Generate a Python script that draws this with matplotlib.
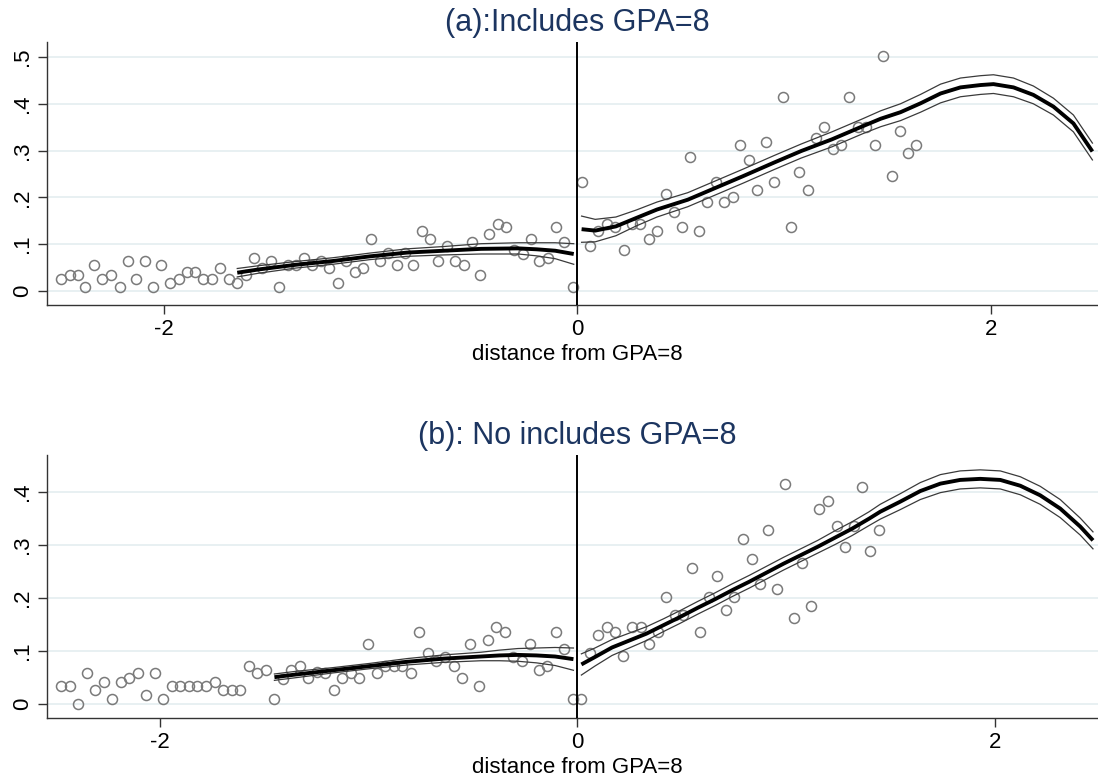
import matplotlib
matplotlib.use("Agg")
import matplotlib.pyplot as plt
from matplotlib.ticker import FuncFormatter

plt.rcParams['font.family'] = ['Liberation Sans', 'DejaVu Sans']

# ---- panel (a): sample includes GPA=8 ----
a_left_x = [-2.502, -2.459, -2.420, -2.382, -2.339, -2.300, -2.256, -2.217, -2.176, -2.135,
            -2.095, -2.056, -2.014, -1.973, -1.930, -1.891, -1.853, -1.812, -1.770, -1.729,
            -1.686, -1.647, -1.605, -1.568, -1.525, -1.485, -1.444, -1.403, -1.361, -1.324,
            -1.283, -1.241, -1.202, -1.161, -1.119, -1.078, -1.039, -0.999, -0.958, -0.917,
            -0.875, -0.836, -0.796, -0.755, -0.716, -0.673, -0.631, -0.592, -0.549, -0.511,
            -0.470, -0.429, -0.387, -0.346, -0.307, -0.265, -0.226, -0.185, -0.143, -0.104,
            -0.063, -0.020]
a_left_y = [0.025, 0.034, 0.034, 0.009, 0.055, 0.025, 0.034, 0.009, 0.064, 0.025,
            0.064, 0.009, 0.055, 0.016, 0.025, 0.041, 0.041, 0.025, 0.025, 0.050,
            0.025, 0.016, 0.034, 0.071, 0.050, 0.064, 0.009, 0.055, 0.055, 0.071,
            0.055, 0.064, 0.050, 0.016, 0.064, 0.041, 0.050, 0.112, 0.064, 0.081,
            0.055, 0.081, 0.055, 0.129, 0.112, 0.064, 0.096, 0.064, 0.055, 0.104,
            0.034, 0.121, 0.143, 0.136, 0.088, 0.079, 0.112, 0.064, 0.071, 0.136,
            0.104, 0.009]
a_right_x = [0.020, 0.060, 0.101, 0.143, 0.184, 0.224, 0.264, 0.304, 0.345, 0.387,
             0.427, 0.468, 0.508, 0.546, 0.588, 0.629, 0.669, 0.710, 0.752, 0.788,
             0.830, 0.871, 0.913, 0.953, 0.996, 1.036, 1.074, 1.114, 1.155, 1.195,
             1.237, 1.278, 1.316, 1.356, 1.398, 1.439, 1.481, 1.522, 1.563, 1.602,
             1.641]
a_right_y = [0.232, 0.096, 0.129, 0.144, 0.136, 0.088, 0.144, 0.144, 0.112, 0.129,
             0.208, 0.168, 0.136, 0.287, 0.129, 0.191, 0.232, 0.191, 0.201, 0.311,
             0.279, 0.216, 0.319, 0.232, 0.415, 0.136, 0.255, 0.216, 0.327, 0.350,
             0.303, 0.311, 0.415, 0.350, 0.350, 0.311, 0.502, 0.246, 0.342, 0.295,
             0.311]

# local polynomial fits with confidence band half-widths
fit_a_left_x = [-1.647, -1.543, -1.363, -1.184, -1.004, -0.825, -0.646, -0.466, -0.287,
                -0.197, -0.108, -0.018]
fit_a_left_y = [0.039, 0.046, 0.056, 0.064, 0.074, 0.082, 0.086, 0.090, 0.091,
                0.089, 0.086, 0.079]
fit_a_left_se = [0.009, 0.008, 0.007, 0.007, 0.007, 0.008, 0.009, 0.011, 0.012,
                 0.014, 0.017, 0.022]
fit_a_right_x = [0.020, 0.086, 0.186, 0.285, 0.385, 0.534, 0.667, 0.800, 0.950, 1.083,
                 1.232, 1.381, 1.468, 1.564, 1.661, 1.758, 1.854, 1.951, 2.014, 2.111,
                 2.207, 2.304, 2.401, 2.493]
fit_a_right_y = [0.132, 0.129, 0.138, 0.156, 0.174, 0.195, 0.220, 0.245, 0.274, 0.299,
                 0.324, 0.352, 0.368, 0.382, 0.401, 0.422, 0.435, 0.440, 0.442, 0.435,
                 0.419, 0.394, 0.358, 0.298]
fit_a_right_se = [0.028, 0.024, 0.020, 0.017, 0.016, 0.015, 0.015, 0.015, 0.015, 0.015,
                  0.016, 0.016, 0.017, 0.018, 0.019, 0.020, 0.020, 0.020, 0.020, 0.020,
                  0.019, 0.018, 0.018, 0.018]

# ---- panel (b): sample excludes GPA=8 ----
b_left_x = [-2.473, -2.431, -2.390, -2.349, -2.309, -2.268, -2.227, -2.186, -2.145, -2.105,
            -2.064, -2.021, -1.982, -1.941, -1.901, -1.860, -1.819, -1.777, -1.736, -1.695,
            -1.654, -1.613, -1.573, -1.532, -1.491, -1.450, -1.410, -1.369, -1.328, -1.287,
            -1.246, -1.206, -1.165, -1.124, -1.083, -1.043, -1.002, -0.961, -0.920, -0.879,
            -0.839, -0.798, -0.757, -0.715, -0.674, -0.633, -0.592, -0.551, -0.511, -0.470,
            -0.429, -0.388, -0.348, -0.307, -0.266, -0.225, -0.184, -0.144, -0.103, -0.062,
            -0.021]
b_left_y = [0.033, 0.033, 0.000, 0.057, 0.025, 0.041, 0.009, 0.041, 0.049, 0.057,
            0.016, 0.057, 0.009, 0.033, 0.033, 0.033, 0.033, 0.033, 0.041, 0.025,
            0.025, 0.025, 0.072, 0.057, 0.064, 0.009, 0.047, 0.064, 0.072, 0.049,
            0.060, 0.057, 0.025, 0.049, 0.057, 0.049, 0.113, 0.057, 0.072, 0.072,
            0.072, 0.057, 0.136, 0.096, 0.080, 0.088, 0.072, 0.049, 0.113, 0.033,
            0.120, 0.145, 0.136, 0.088, 0.080, 0.113, 0.064, 0.072, 0.136, 0.104,
            0.009]
b_right_x = [0.020, 0.059, 0.100, 0.141, 0.182, 0.221, 0.263, 0.304, 0.345, 0.386,
             0.427, 0.466, 0.507, 0.550, 0.589, 0.630, 0.671, 0.712, 0.753, 0.794,
             0.835, 0.874, 0.915, 0.956, 0.997, 1.037, 1.078, 1.119, 1.160, 1.201,
             1.242, 1.283, 1.324, 1.363, 1.404, 1.445]
b_right_y = [0.009, 0.096, 0.129, 0.145, 0.136, 0.089, 0.145, 0.145, 0.113, 0.136,
             0.201, 0.168, 0.168, 0.256, 0.136, 0.201, 0.240, 0.177, 0.201, 0.311,
             0.272, 0.225, 0.328, 0.216, 0.415, 0.161, 0.265, 0.184, 0.367, 0.383,
             0.336, 0.296, 0.336, 0.408, 0.288, 0.328]

fit_b_left_x = [-1.450, -1.348, -1.170, -0.993, -0.816, -0.638, -0.461, -0.372, -0.284,
                -0.195, -0.106, -0.018]
fit_b_left_y = [0.050, 0.055, 0.063, 0.071, 0.079, 0.085, 0.089, 0.091, 0.092,
                0.091, 0.089, 0.084]
fit_b_left_se = [0.006, 0.006, 0.005, 0.005, 0.006, 0.007, 0.008, 0.010, 0.012,
                 0.014, 0.017, 0.021]
fit_b_right_x = [0.020, 0.085, 0.167, 0.249, 0.331, 0.413, 0.495, 0.578, 0.660, 0.742,
                 0.824, 0.906, 0.988, 1.070, 1.152, 1.234, 1.316, 1.398, 1.451, 1.547,
                 1.643, 1.739, 1.834, 1.930, 2.026, 2.122, 2.217, 2.313, 2.409, 2.470]
fit_b_right_y = [0.074, 0.088, 0.106, 0.119, 0.132, 0.148, 0.164, 0.181, 0.197, 0.214,
                 0.230, 0.247, 0.264, 0.280, 0.296, 0.313, 0.330, 0.349, 0.362, 0.381,
                 0.401, 0.415, 0.422, 0.424, 0.422, 0.411, 0.393, 0.368, 0.334, 0.308]
fit_b_right_se = [0.020, 0.017, 0.015, 0.014, 0.013, 0.012, 0.012, 0.012, 0.012, 0.012,
                  0.012, 0.012, 0.012, 0.012, 0.012, 0.013, 0.013, 0.013, 0.014, 0.015,
                  0.016, 0.017, 0.017, 0.017, 0.017, 0.017, 0.017, 0.017, 0.016, 0.016]

a_yticks = [0, 0.1, 0.2, 0.3, 0.4, 0.5]
b_yticks = [0, 0.1, 0.2, 0.3, 0.4]
x_ticks = [-2, 0, 2]

TITLE_COLOR = '#1c3560'
GRID_COLOR = '#e8f0f2'
MARKER_COLOR = '#7a7a7a'
AXIS_COLOR = '#333333'

W, H = 1098, 780


def stata_num(v, pos=None):
    if abs(v) < 1e-9:
        return '0'
    return ('%.1f' % v).replace('0.', '.')


def fit_band(ax, xs, ys, se):
    lo = [y - s for y, s in zip(ys, se)]
    hi = [y + s for y, s in zip(ys, se)]
    ax.plot(xs, hi, color='#3a3a3a', lw=0.9, zorder=3)
    ax.plot(xs, lo, color='#3a3a3a', lw=0.9, zorder=3)
    ax.plot(xs, ys, color='black', lw=2.8, zorder=4, solid_capstyle='butt')


def draw_panel(ax, title, title_y, left, right, fits, yticks, xlim, ylim):
    ax.set_xlim(*xlim)
    ax.set_ylim(*ylim)
    for y in yticks:
        ax.axhline(y, color=GRID_COLOR, lw=1.4, zorder=0)
    for xs, ys in (left, right):
        ax.plot(xs, ys, ls='none', marker='o', ms=7.2, mfc='none',
                mec=MARKER_COLOR, mew=1.1, zorder=2)
    for xs, ys, se in fits:
        fit_band(ax, xs, ys, se)
    ax.axvline(0, color='black', lw=1.4, zorder=5)

    for side in ('top', 'right'):
        ax.spines[side].set_visible(False)
    for side in ('left', 'bottom'):
        ax.spines[side].set_color(AXIS_COLOR)
        ax.spines[side].set_linewidth(1.0)

    ax.set_xticks(x_ticks)
    ax.xaxis.set_major_formatter(FuncFormatter(lambda v, p: '%d' % v))
    ax.set_yticks(yticks)
    ax.yaxis.set_major_formatter(FuncFormatter(stata_num))
    ax.tick_params(axis='both', length=6.5, width=1.0, color=AXIS_COLOR,
                   labelsize=16, labelcolor='black')
    ax.tick_params(axis='x', pad=3.5)
    ax.tick_params(axis='y', pad=3.5, labelrotation=90)
    for lab in ax.get_yticklabels():
        lab.set_va('center')

    ax.set_xlabel('distance from GPA=8', fontsize=16)
    ax.xaxis.label.set_va('baseline')
    ax.xaxis.set_label_coords((577 - 47) / 1051, -55 / 263)

    fig.text(577 / W, 1 - title_y / H, title, ha='center', va='baseline',
             fontsize=22, color=TITLE_COLOR)


fig = plt.figure(figsize=(W / 100, H / 100), dpi=100)
ax_a = fig.add_axes([47 / W, 1 - 305 / H, 1051 / W, 263 / H])
ax_b = fig.add_axes([47 / W, 1 - 718 / H, 1051 / W, 263 / H])

draw_panel(ax_a, '(a):Includes GPA=8', 31,
           (a_left_x, a_left_y), (a_right_x, a_right_y),
           [(fit_a_left_x, fit_a_left_y, fit_a_left_se),
            (fit_a_right_x, fit_a_right_y, fit_a_right_se)],
           a_yticks, (-2.568, 2.52), (-0.030, 0.532))

draw_panel(ax_b, '(b): No includes GPA=8', 444,
           (b_left_x, b_left_y), (b_right_x, b_right_y),
           [(fit_b_left_x, fit_b_left_y, fit_b_left_se),
            (fit_b_right_x, fit_b_right_y, fit_b_right_se)],
           b_yticks, (-2.539, 2.494), (-0.027, 0.469))

fig.savefig('out.png', dpi=100)
